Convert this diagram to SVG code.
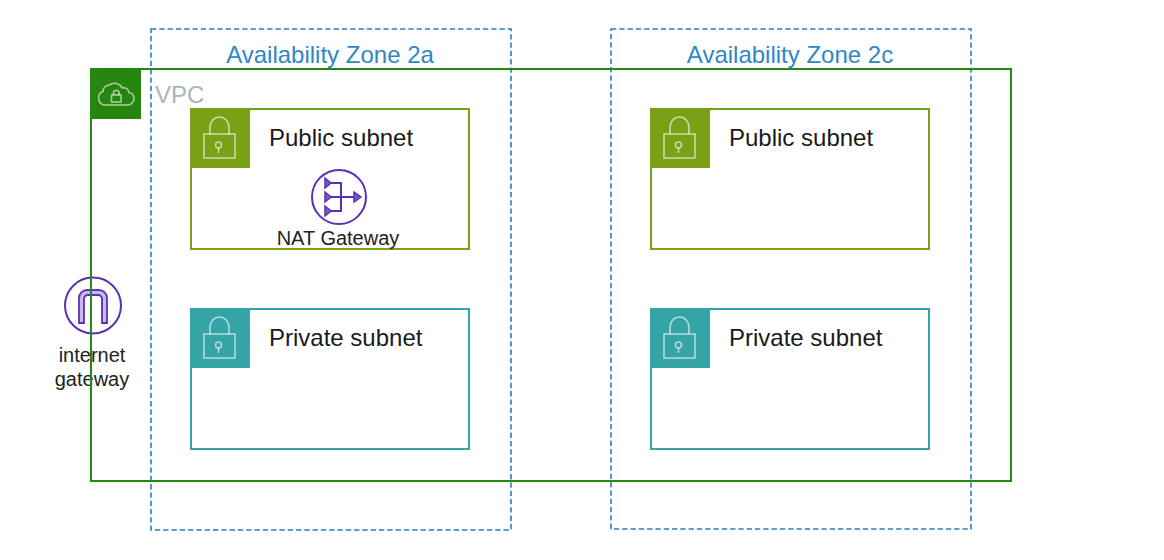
<svg xmlns="http://www.w3.org/2000/svg" width="1164" height="560" viewBox="0 0 1164 560">
<style>
text{font-family:"Liberation Sans",Arial,sans-serif}
.box{fill:none;stroke-width:2}
.az{fill:none;stroke:#2480c4;stroke-width:1.600;stroke-dasharray:5.300 3}
.azt{font-size:24px;fill:#2f86c9;text-anchor:middle}
.st{font-size:24px;fill:#1a1a1a}
.lbl{font-size:20px;fill:#222;text-anchor:middle}
.ic{fill:none;stroke:#fff;stroke-opacity:.6;stroke-width:1.600}
.pu{fill:none;stroke:#5a30b5;stroke-width:2}
</style>
<defs>
<g id="lock">
<path class="ic" d="M20 26V19a9.500 10 0 0 1 19 0V26"/>
<rect class="ic" x="14" y="26" width="31" height="24"/>
<circle class="ic" cx="28.500" cy="37" r="3"/>
<path class="ic" d="M28.500 40V45"/>
</g>
</defs>
<rect width="1164" height="560" fill="#fff"/>
<g id="az-2a">
<rect class="az" x="151" y="29" width="360" height="501"/>
<text class="azt" x="330" y="63">Availability Zone 2a</text>
</g>
<g id="az-2c">
<rect class="az" x="611" y="29" width="360" height="500"/>
<text class="azt" x="790" y="63">Availability Zone 2c</text>
</g>
<g id="internet-gateway">
<circle class="pu" cx="93" cy="305.500" r="28"/>
<path d="M79 323V298a8 8 0 0 1 8-8H99a8 8 0 0 1 8 8V323H102V299a4 4 0 0 0-4-4H88a4 4 0 0 0-4 4V323Z" fill="#c9b8ea" stroke="#5a30b5" stroke-width="1.800"/>
<text class="lbl" x="92" y="362">internet</text>
<text class="lbl" x="92" y="386">gateway</text>
</g>
<g id="vpc">
<rect class="box" x="91" y="69" width="920" height="412" stroke="#248814"/>
<rect x="91" y="69" width="50" height="50" fill="#26850f"/>
<path class="ic" d="M105 105a7 7 0 0 1-2-13.500c0-4 3-6.500 6.500-6.500 4-3 10-2 13 3 3-1 6 1 6.500 4.500 3 .5 5 3 5 6 0 3.500-3 6.500-6 6.500Z"/>
<rect class="ic" x="111.500" y="95" width="9.500" height="7"/>
<path class="ic" d="M113.500 95v-2a2.800 2.800 0 0 1 5.600 0v2"/>
<text x="155" y="103" font-size="24" fill="#aab4bb">VPC</text>
</g>
<g id="public-2a">
<rect class="box" x="191" y="109" width="278" height="140" stroke="#7aa116"/>
<rect x="190" y="108" width="60" height="60" fill="#7aa116"/>
<use href="#lock" x="190" y="108"/>
<text class="st" x="269" y="146">Public subnet</text>
</g>
<g id="private-2a">
<rect class="box" x="191" y="309" width="278" height="140" stroke="#34a4a6"/>
<rect x="190" y="308" width="60" height="60" fill="#34a4a6"/>
<use href="#lock" x="190" y="308"/>
<text class="st" x="269" y="346">Private subnet</text>
</g>
<g id="public-2c">
<rect class="box" x="651" y="109" width="278" height="140" stroke="#7aa116"/>
<rect x="650" y="108" width="60" height="60" fill="#7aa116"/>
<use href="#lock" x="650" y="108"/>
<text class="st" x="729" y="146">Public subnet</text>
</g>
<g id="private-2c">
<rect class="box" x="651" y="309" width="278" height="140" stroke="#34a4a6"/>
<rect x="650" y="308" width="60" height="60" fill="#34a4a6"/>
<use href="#lock" x="650" y="308"/>
<text class="st" x="729" y="346">Private subnet</text>
</g>
<g id="nat-gateway">
<circle class="pu" cx="339" cy="197" r="27"/>
<path class="pu" d="M329 183H341V211H329M329 197H355"/>
<path d="M325 178l6 5-6 5ZM325 192l6 5-6 5ZM325 206l6 5-6 5ZM354 192l7 5-7 5Z" fill="#7a55c7" stroke="#5a30b5" stroke-width="1.500"/>
<text class="lbl" x="338" y="245">NAT Gateway</text>
</g>
</svg>
